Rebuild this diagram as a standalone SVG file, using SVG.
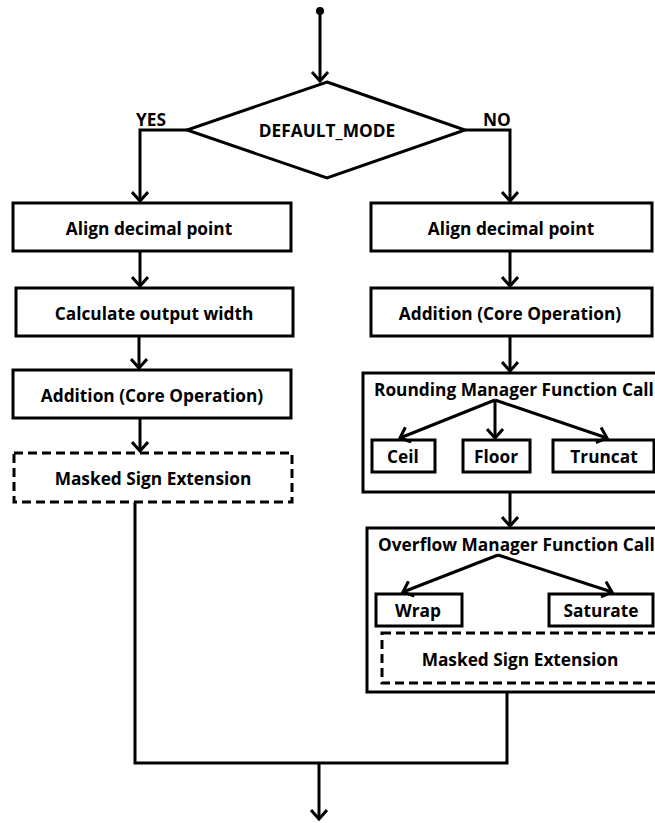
<svg xmlns="http://www.w3.org/2000/svg" width="655" height="823" viewBox="0 0 655 823">
<defs>
<marker id="ah" viewBox="-10 -9 12 18" markerWidth="12" markerHeight="18" refX="0" refY="0" orient="auto" markerUnits="userSpaceOnUse">
<polyline points="-9,-8 0,0 -9,8" fill="none" stroke="#000" stroke-width="3" stroke-linejoin="miter"/>
</marker>
</defs>
<style>
.box{fill:#fff;stroke:#000;stroke-width:3}
.dash{fill:#fff;stroke:#000;stroke-width:3;stroke-dasharray:9,5}
.ln{fill:none;stroke:#000;stroke-width:3}
.ar{fill:none;stroke:#000;stroke-width:3;marker-end:url(#ah)}
.t{font-family:"Open Sans","Liberation Sans",sans-serif;font-weight:bold;font-size:17.3px;fill:#000;text-anchor:middle;dominant-baseline:central}
.tl{font-family:"Open Sans","Liberation Sans",sans-serif;font-weight:bold;font-size:17.3px;fill:#000}
</style>
<g id="start"><circle cx="320" cy="11" r="4" fill="#000"/></g>
<g id="decision">
<polygon class="box" points="327,82 465,130 327,178 187,130"/>
<text class="t" x="327" y="130" font-size="17.8">DEFAULT_MODE</text>
</g>
<g id="yes-label"><text class="tl" x="136" y="126" font-size="15">YES</text></g>
<g id="no-label"><text class="tl" x="483" y="126" font-size="15.5">NO</text></g>
<g id="l-align"><rect class="box" x="13" y="203" width="278" height="48"/><text class="t" x="149" y="228">Align decimal point</text></g>
<g id="l-calc"><rect class="box" x="16" y="288" width="277" height="48"/><text class="t" x="154" y="313">Calculate output width</text></g>
<g id="l-add"><rect class="box" x="13" y="370" width="278" height="48"/><text class="t" x="152" y="395">Addition (Core Operation)</text></g>
<g id="l-mask"><rect class="dash" x="14" y="453" width="278" height="49"/><text class="t" x="153" y="478">Masked Sign Extension</text></g>
<g id="r-align"><rect class="box" x="371" y="203" width="281" height="48"/><text class="t" x="511" y="228">Align decimal point</text></g>
<g id="r-add"><rect class="box" x="371" y="288" width="281" height="48"/><text class="t" x="510" y="313">Addition (Core Operation)</text></g>
<g id="rounding">
<rect class="box" x="363" y="373" width="300" height="119"/>
<text class="tl" x="374" y="396" font-size="16.6">Rounding Manager Function Call</text>
<g id="ceil"><rect class="box" x="372" y="440" width="63" height="32"/><text class="t" x="403" y="456">Ceil</text></g>
<g id="floor"><rect class="box" x="463" y="440" width="67" height="32"/><text class="t" x="496" y="456">Floor</text></g>
<g id="truncat"><rect class="box" x="553" y="440" width="101" height="32"/><text class="t" x="604" y="456">Truncat</text></g>
</g>
<g id="overflow">
<rect class="box" x="367" y="528" width="296" height="164"/>
<text class="tl" x="378" y="551" font-size="16.4">Overflow Manager Function Call</text>
<g id="wrap"><rect class="box" x="376" y="594" width="86" height="32"/><text class="t" x="418" y="610">Wrap</text></g>
<g id="saturate"><rect class="box" x="549" y="594" width="104" height="32"/><text class="t" x="601" y="610">Saturate</text></g>
<g id="r-mask"><rect class="dash" x="382" y="633" width="280" height="50"/><text class="t" x="520" y="659">Masked Sign Extension</text></g>
</g>
<g id="connectors">
<line class="ar" x1="320" y1="11" x2="320" y2="81"/>
<polyline class="ar" points="187,130 140,130 140,201"/>
<polyline class="ar" points="465,130 510,130 510,201"/>
<line class="ar" x1="140" y1="251" x2="140" y2="286"/>
<line class="ar" x1="139" y1="336" x2="139" y2="368"/>
<line class="ar" x1="140" y1="418" x2="140" y2="451"/>
<line class="ar" x1="510" y1="251" x2="510" y2="286"/>
<line class="ar" x1="510" y1="336" x2="510" y2="371"/>
<line class="ar" x1="495" y1="400" x2="400" y2="438"/>
<line class="ar" x1="495" y1="400" x2="495" y2="438"/>
<line class="ar" x1="495" y1="400" x2="607" y2="438"/>
<line class="ar" x1="510" y1="492" x2="510" y2="526"/>
<line class="ar" x1="498" y1="555" x2="403" y2="592"/>
<line class="ar" x1="498" y1="555" x2="612" y2="592"/>
<polyline class="ln" points="135,502 135,763 507,763 507,692"/>
<line class="ar" x1="319" y1="763" x2="319" y2="819"/>
</g>
</svg>
